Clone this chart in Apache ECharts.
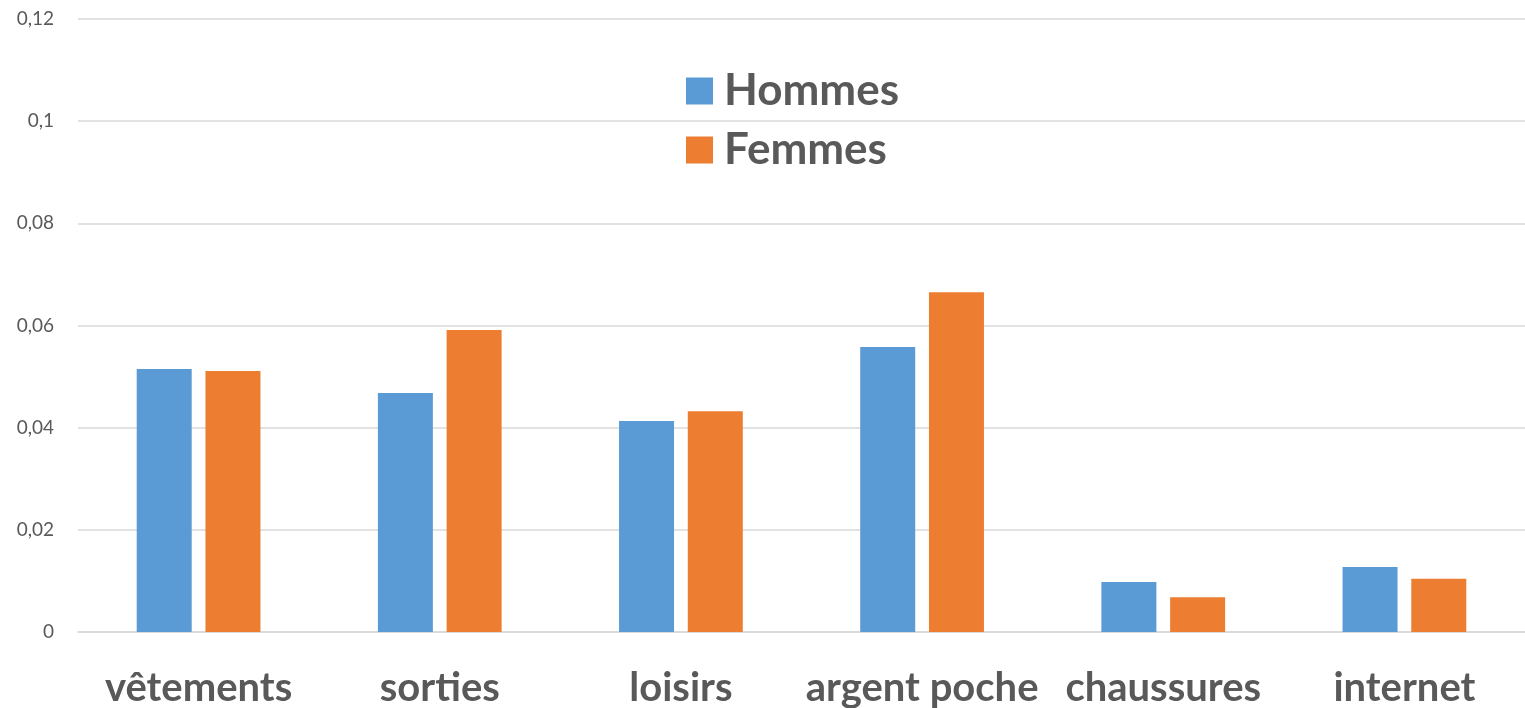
<!DOCTYPE html>
<html>
<head>
<meta charset="utf-8">
<script src="https://cdn.jsdelivr.net/npm/echarts@6/dist/echarts.min.js"></script>
<style>
  html, body { margin: 0; padding: 0; background: #fff; }
  #chart { width: 1525px; height: 708px; }
</style>
</head>
<body>
<div id="chart"></div>
<script>
const categories = ['vêtements', 'sorties', 'loisirs', 'argent poche', 'chaussures', 'internet']
const hommes = [0.0515, 0.0468, 0.0413, 0.0558, 0.0098, 0.0127]
const femmes = [0.0511, 0.0591, 0.0432, 0.0665, 0.0068, 0.0104]
const yTicks = [0, 0.02, 0.04, 0.06, 0.08, 0.1, 0.12]

const chart = echarts.init(document.getElementById('chart'))

// étiquettes à la française : virgule décimale
const fmt = v => String(parseFloat(v.toFixed(2))).replace('.', ',')

chart.setOption({
  animation: false,
  textStyle: { fontFamily: 'Lato' },
  legend: {
    orient: 'vertical',
    left: 686,
    top: 69,
    padding: 0,
    itemWidth: 27,
    itemHeight: 27,
    itemGap: 15,
    icon: 'rect',
    textStyle: { fontSize: 44, fontWeight: 'bold', color: '#595959', fontFamily: 'Lato', padding: [0, 0, 0, 6] }
  },
  grid: { left: 78, width: 1453, top: 19, bottom: 76 },
  xAxis: {
    type: 'category',
    data: categories,
    axisTick: { show: false },
    axisLine: { lineStyle: { color: '#D9D9D9', width: 1.5 } },
    axisLabel: { fontSize: 40, fontWeight: 'bold', color: '#595959', margin: 36, interval: 0 }
  },
  yAxis: {
    type: 'value',
    min: yTicks[0],
    max: yTicks[yTicks.length - 1],
    interval: 0.02,
    axisLine: { show: false },
    axisTick: { show: false },
    splitLine: { lineStyle: { color: '#D9D9D9', width: 1.5 } },
    axisLabel: { fontSize: 19, color: '#595959', margin: 24, formatter: fmt }
  },
  series: [
    { name: 'Hommes', type: 'bar', data: hommes, barWidth: 55, barGap: '25%', itemStyle: { color: '#5B9BD5' } },
    { name: 'Femmes', type: 'bar', data: femmes, barWidth: 55, itemStyle: { color: '#ED7D31' } }
  ]
})
</script>
</body>
</html>
